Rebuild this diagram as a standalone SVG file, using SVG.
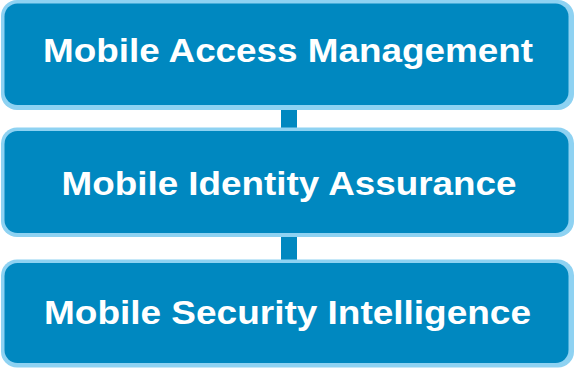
<svg xmlns="http://www.w3.org/2000/svg" width="575" height="368" viewBox="0 0 575 368">
<style>
.outer{fill:#8ED2F2}
.inner{fill:#0088C0}
.conn{fill:#0088C0}
.lbl{font-family:"Liberation Sans",Arial,sans-serif;font-weight:bold;font-size:34px;fill:#FFFFFF;text-anchor:middle}
</style>
<rect x="0" y="0" width="575" height="368" fill="#FFFFFF"/>
<g id="connectors">
<rect class="conn" x="281" y="108" width="16" height="22"/>
<rect class="conn" x="281" y="235" width="16" height="27"/>
</g>
<g id="node1">
<rect class="outer" x="1" y="0" width="573" height="110" rx="16"/>
<rect class="inner" x="4.5" y="3.5" width="564" height="101.5" rx="13"/>
<text class="lbl" x="288" y="62" textLength="490" lengthAdjust="spacingAndGlyphs">Mobile Access Management</text>
</g>
<g id="node2">
<rect class="outer" x="1" y="127.5" width="573" height="109.5" rx="16"/>
<rect class="inner" x="4.5" y="131" width="564" height="102" rx="13"/>
<text class="lbl" x="289" y="195" textLength="455" lengthAdjust="spacingAndGlyphs">Mobile Identity Assurance</text>
</g>
<g id="node3">
<rect class="outer" x="1" y="259.5" width="573" height="108" rx="16"/>
<rect class="inner" x="4.5" y="263" width="564" height="100" rx="13"/>
<text class="lbl" x="287.5" y="324" textLength="487" lengthAdjust="spacingAndGlyphs">Mobile Security Intelligence</text>
</g>
</svg>
